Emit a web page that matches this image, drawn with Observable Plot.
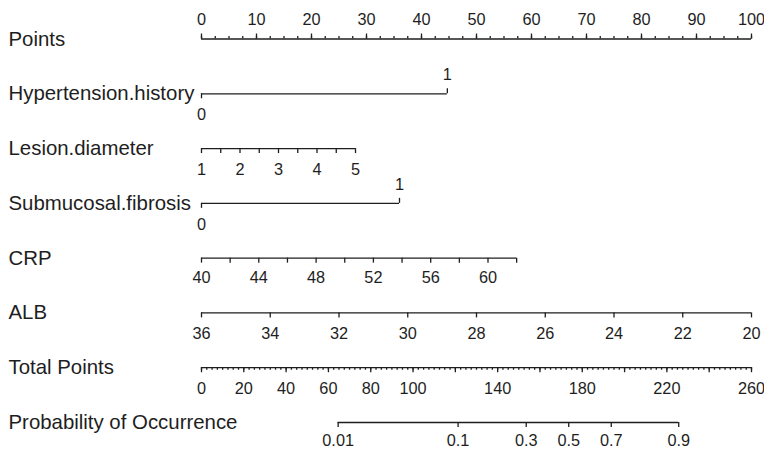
<!DOCTYPE html>
<html><head><meta charset="utf-8">
<script src="https://cdn.jsdelivr.net/npm/d3@7"></script>
<script src="https://cdn.jsdelivr.net/npm/@observablehq/plot@0.6"></script>
<style>body{margin:0;background:#fff} svg{display:block}</style>
</head><body><div id="chart"></div>
<script>
// ---- data ----
const rowNames = ["Points","Hypertension.history","Lesion.diameter","Submucosal.fibrosis","CRP","ALB","Total Points","Probability of Occurrence"];

const pointsLabels = [0,10,20,30,40,50,60,70,80,90,100];
const pointsMinorStep = 2.5;

const htValues = [0,1];
const htPoints = [0,44.7];

const ldLabels = [1,2,3,4,5];
const ldTicks = [1,1.5,2,2.5,3,3.5,4,4.5,5];
const ldRange = [1,5];
const ldPointsRange = [0,28];

const sfValues = [0,1];
const sfPoints = [0,36];

const crpLabels = [40,44,48,52,56,60];
const crpTicks = [40,42,44,46,48,50,52,54,56,58,60,62];
const crpRange = [40,62];
const crpPointsRange = [0,57.3];

const albLabels = [36,34,32,30,28,26,24,22,20];
const albRange = [36,20];
const albPointsRange = [0,100];

const tpLabels = [0,20,40,60,80,100,140,180,220,260];
const tpMajor = [0,20,40,60,80,100,120,140,160,180,200,220,240,260];
const tpMinorStep = 2.5;
const tpRange = [0,260];

const probLabels = [0.01,0.1,0.3,0.5,0.7,0.9];
const probTotalPoints = [64.6,121.3,153.5,173.6,193.7,225.6];

// ---- build tables ----
const H = 454, W = 764;
const mTop = 38.5, mBottom = 32, mLeft = 201, mRight = 13;
const spacing = (H - mTop - mBottom) / (rowNames.length - 1);
const px = p => p / spacing;
const lin = (v, dom, rng) => rng[0] + (v - dom[0]) * (rng[1] - rng[0]) / (dom[1] - dom[0]);
const tp2pts = v => lin(v, tpRange, [0,100]);

const lines = [], ticks = [], labels = [];
const UP = -1, DOWN = 1;
function addLine(row, p1, p2){ lines.push({row, p1, p2}); }
function addTick(row, p, dir, len){ ticks.push({row, p, dir, len}); }
function addLabel(row, p, text, dir, off){ labels.push({row, p, text, dir, off}); }

// Points
addLine(0, 0, 100);
d3.range(0, 100 + 1e-9, pointsMinorStep).forEach(v => addTick(0, v, UP, 2.5));
pointsLabels.forEach(v => { addTick(0, v, UP, 5); addLabel(0, v, String(v), UP, 19); });

// Hypertension.history
addLine(1, htPoints[0], htPoints[1]);
addTick(1, htPoints[0], DOWN, 5); addLabel(1, htPoints[0], String(htValues[0]), DOWN, 21);
addTick(1, htPoints[1], UP, 5); addLabel(1, htPoints[1], String(htValues[1]), UP, 19);

// Lesion.diameter
addLine(2, ldPointsRange[0], ldPointsRange[1]);
ldTicks.forEach(v => addTick(2, lin(v, ldRange, ldPointsRange), DOWN, 5));
ldLabels.forEach(v => addLabel(2, lin(v, ldRange, ldPointsRange), String(v), DOWN, 21));

// Submucosal.fibrosis
addLine(3, sfPoints[0], sfPoints[1]);
addTick(3, sfPoints[0], DOWN, 5); addLabel(3, sfPoints[0], String(sfValues[0]), DOWN, 21);
addTick(3, sfPoints[1], UP, 5); addLabel(3, sfPoints[1], String(sfValues[1]), UP, 19);

// CRP
addLine(4, crpPointsRange[0], crpPointsRange[1]);
crpTicks.forEach(v => addTick(4, lin(v, crpRange, crpPointsRange), DOWN, 5));
crpLabels.forEach(v => addLabel(4, lin(v, crpRange, crpPointsRange), String(v), DOWN, 20));

// ALB
addLine(5, albPointsRange[0], albPointsRange[1]);
albLabels.forEach(v => { const p = lin(v, albRange, albPointsRange); addTick(5, p, DOWN, 5); addLabel(5, p, String(v), DOWN, 21); });

// Total Points
addLine(6, 0, 100);
d3.range(0, 260 + 1e-9, tpMinorStep).forEach(v => addTick(6, tp2pts(v), DOWN, 2.5));
tpMajor.forEach(v => addTick(6, tp2pts(v), DOWN, 5));
tpLabels.forEach(v => addLabel(6, tp2pts(v), String(v), DOWN, 21));

// Probability
addLine(7, tp2pts(probTotalPoints[0]), tp2pts(probTotalPoints[probTotalPoints.length - 1]));
probLabels.forEach((v, i) => { const p = tp2pts(probTotalPoints[i]); addTick(7, p, DOWN, 5); addLabel(7, p, String(v), DOWN, 18); });

const ink = "#1e1e1e";
const rowLabels = rowNames.map((name, i) => ({name, row: i}));

const chart = Plot.plot({
  width: W, height: H,
  marginTop: mTop, marginBottom: mBottom, marginLeft: mLeft, marginRight: mRight,
  x: {domain: [0, 100], axis: null},
  y: {domain: [0, rowNames.length - 1], reverse: true, axis: null},
  style: {fontFamily: "'Liberation Sans', Arial, Helvetica, sans-serif", background: "#fff", color: ink},
  marks: [
    Plot.ruleY(lines, {y: "row", x1: "p1", x2: "p2", stroke: ink, strokeWidth: 1.3}),
    Plot.ruleX(ticks, {x: "p", y1: "row", y2: d => d.row + d.dir * px(d.len), stroke: ink, strokeWidth: 1.3}),
    Plot.text(labels, {x: "p", y: d => d.row + d.dir * px(d.off), text: "text", fontSize: 16.3, fill: ink}),
    Plot.text(rowLabels, {y: "row", text: "name", frameAnchor: "left", textAnchor: "start", dx: 8 - mLeft, fontSize: 20.4, fill: ink})
  ]
});
document.getElementById("chart").appendChild(chart);
</script>
</body></html>
